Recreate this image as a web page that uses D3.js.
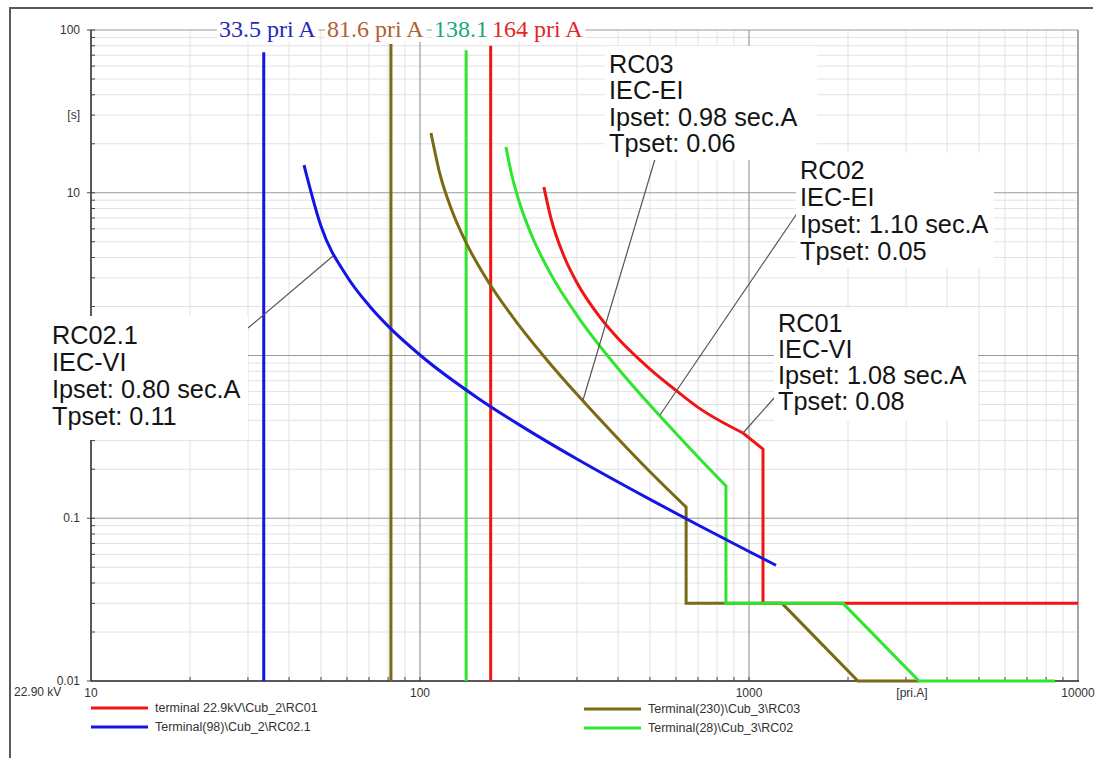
<!DOCTYPE html>
<html><head><meta charset="utf-8">
<script src="https://cdn.jsdelivr.net/npm/d3@7"></script>
<style>body{margin:0;background:#fff;} svg{display:block}</style>
</head><body><svg id="c" width="1097" height="758"></svg>
<script>
// ---------- data ----------
const xTickValues = [10, 100, 1000, 10000];
const xTickLabels = ["10", "100", "1000", "10000"];
const yTickValues = [0.01, 0.1, 10, 100];
const yTickLabels = ["0.01", "0.1", "10", "100"];

// RC01 (red, IEC-VI)
const rc01Curve = [[238,10.85],[250,6.98],[275,4.0],[300,2.8],[350,1.75],[400,1.27],[500,0.825],[600,0.61],[700,0.48],[959,0.334]];
const rc01Tail = [[959,0.334],[1103,0.266],[1103,0.03],[10000,0.03]];
// RC03 (olive, IEC-EI)
const rc03Curve = [[108,23.3],[115,13.0],[125,7.78],[140,4.67],[160,2.91],[200,1.53],[250,0.878],[300,0.577],[400,0.308],[500,0.193],[644,0.117]];
const rc03Tail = [[644,0.117],[644,0.03],[1260,0.03],[2143,0.01],[3286,0.01]];
// RC02 (green, IEC-EI)
const rc02Curve = [[182.5,19.1],[190,12.9],[200,8.86],[220,5.29],[250,3.15],[300,1.765],[400,0.832],[500,0.496],[600,0.332],[700,0.238],[851,0.158]];
const rc02Tail = [[851,0.158],[851,0.03],[1931,0.03],[3286,0.01],[8511,0.01]];
// RC02.1 (blue, IEC-VI)
const rc021Curve = [[44.4,14.8],[50,6.25],[60,3.06],[70,2.03],[80,1.515],[100,1.007],[150,0.547],[200,0.376],[300,0.231],[500,0.1305],[700,0.0909],[1000,0.0625],[1208,0.0514]];
const rc021Tail = [];

// Pickup lines
const pickupLabels = ["33.5 pri A", "81.6 pri A", "138.1", "164 pri A"];
const pickupCurrents = [33.5, 81.6, 138.1, 164];
const pickupTops = [73, 82, 75, 80];

// Legend
const legendNames = ["terminal 22.9kV\\Cub_2\\RC01", "Terminal(98)\\Cub_2\\RC02.1", "Terminal(230)\\Cub_3\\RC03", "Terminal(28)\\Cub_3\\RC02"];

// Annotations
const annRC03 = ["RC03", "IEC-EI", "Ipset: 0.98 sec.A", "Tpset: 0.06"];
const annRC02 = ["RC02", "IEC-EI", "Ipset: 1.10 sec.A", "Tpset: 0.05"];
const annRC01 = ["RC01", "IEC-VI", "Ipset: 1.08 sec.A", "Tpset: 0.08"];
const annRC021 = ["RC02.1", "IEC-VI", "Ipset: 0.80 sec.A", "Tpset: 0.11"];
const annAnchors = [[313, 0.533], [536.5, 0.431], [959, 0.334], [54.4, 4.09]];

// ---------- drawing ----------
const svg = d3.select("#c");
const x = d3.scaleLog().domain([10, 10000]).range([91, 1078]);
const y = d3.scaleLog().domain([0.01, 100]).range([681, 30]);

const RED = "#f01414", BLUE = "#1414e6", OLIVE = "#7a6a14", GREEN = "#2ee62e";

// outer frame
svg.append("path").attr("d", "M10,758 L10,8 L1093,8").attr("fill", "none").attr("stroke", "#5a5a5a").attr("stroke-width", 2);

// grid
const minorX = [], majorX = [100, 1000];
[10, 100, 1000].forEach(d => { for (let k = 2; k <= 9; k++) minorX.push(d * k); });
const minorY = [], majorY = [0.1, 1, 10, 100];
[0.01, 0.1, 1, 10].forEach(d => { for (let k = 2; k <= 9; k++) minorY.push(d * k); });

const g = svg.append("g");
g.selectAll(".mx").data(minorX).join("line")
  .attr("x1", d => x(d)).attr("x2", d => x(d)).attr("y1", 30).attr("y2", 681)
  .attr("stroke", "#e2e2e2").attr("stroke-width", 1);
g.selectAll(".my").data(minorY).join("line")
  .attr("x1", 91).attr("x2", 1078).attr("y1", d => y(d)).attr("y2", d => y(d))
  .attr("stroke", "#e2e2e2").attr("stroke-width", 1);
g.selectAll(".Mx").data(majorX).join("line")
  .attr("x1", d => x(d)).attr("x2", d => x(d)).attr("y1", 30).attr("y2", 681)
  .attr("stroke", "#9a9a9a").attr("stroke-width", 1.2);
g.selectAll(".My").data(majorY).join("line")
  .attr("x1", 91).attr("x2", 1078).attr("y1", d => y(d)).attr("y2", d => y(d))
  .attr("stroke", "#9a9a9a").attr("stroke-width", 1.2);
// right edge
g.append("line").attr("x1", x(10000)).attr("x2", x(10000)).attr("y1", 30).attr("y2", 681)
  .attr("stroke", "#8a8a8a").attr("stroke-width", 1.5);

// axes lines
g.append("line").attr("x1", 91).attr("x2", 91).attr("y1", 30).attr("y2", 681).attr("stroke", "#222").attr("stroke-width", 1.5);
g.append("line").attr("x1", 91).attr("x2", 1079).attr("y1", 681).attr("y2", 681).attr("stroke", "#222").attr("stroke-width", 1.5);
// ticks
g.selectAll(".ty").data(minorY.concat(majorY)).join("line")
  .attr("x1", 91).attr("x2", 95).attr("y1", d => y(d)).attr("y2", d => y(d)).attr("stroke", "#444");
g.selectAll(".tyM").data(yTickValues).join("line")
  .attr("x1", 87).attr("x2", 91).attr("y1", d => y(d)).attr("y2", d => y(d)).attr("stroke", "#444");
g.selectAll(".tx").data(minorX.concat(majorX)).join("line")
  .attr("x1", d => x(d)).attr("x2", d => x(d)).attr("y1", 677).attr("y2", 681).attr("stroke", "#444");

// axis labels
const axFont = "'Liberation Sans', Arial, sans-serif";
g.selectAll(".yl").data(yTickValues).join("text")
  .attr("x", 80).attr("y", d => y(d)).attr("dy", "0.35em").attr("text-anchor", "end")
  .attr("font-family", axFont).attr("font-size", 12).attr("fill", "#333")
  .text((d, i) => yTickLabels[i]);
g.append("text").attr("x", 80).attr("y", y(30)).attr("dy", "0.35em").attr("text-anchor", "end")
  .attr("font-family", axFont).attr("font-size", 12).attr("fill", "#333").text("[s]");
g.selectAll(".xl").data(xTickValues).join("text")
  .attr("x", d => x(d)).attr("y", 693).attr("dy", "0.35em").attr("text-anchor", "middle")
  .attr("font-family", axFont).attr("font-size", 12).attr("fill", "#333")
  .text((d, i) => xTickLabels[i]);
g.append("text").attr("x", 912).attr("y", 693).attr("dy", "0.35em").attr("text-anchor", "middle")
  .attr("font-family", axFont).attr("font-size", 12).attr("fill", "#333").text("[pri.A]");
g.append("text").attr("x", 14).attr("y", 692).attr("dy", "0.35em")
  .attr("font-family", axFont).attr("font-size", 12).attr("fill", "#333").text("22.90 kV");

// curves
const lineCurve = d3.line().x(d => x(d[0])).y(d => y(d[1])).curve(d3.curveMonotoneX);
const lineLin = d3.line().x(d => x(d[0])).y(d => y(d[1]));
const series = [
  {c: rc01Curve, t: rc01Tail, col: RED},
  {c: rc03Curve, t: rc03Tail, col: OLIVE},
  {c: rc02Curve, t: rc02Tail, col: GREEN},
  {c: rc021Curve, t: rc021Tail, col: BLUE}
];
const pickupColors = [BLUE, OLIVE, GREEN, RED];
const cg = svg.append("g");
pickupCurrents.forEach((p, i) => {
  cg.append("line").attr("x1", x(p)).attr("x2", x(p)).attr("y1", y(pickupTops[i])).attr("y2", y(0.01))
    .attr("stroke", pickupColors[i]).attr("stroke-width", 3);
});
series.forEach(s => {
  const all = s.c.concat(s.t.slice(1));
  cg.append("path").attr("d", lineCurve(s.c) + (s.t.length ? lineLin(s.t).replace(/^M/, "L") : ""))
    .attr("fill", "none").attr("stroke", s.col).attr("stroke-width", 3).attr("stroke-linejoin", "miter");
});

// annotations
const annFont = "'Liberation Sans', Arial, sans-serif";
const anns = [
  {lines: annRC03, tx: 609, ty: 73, sp: 26.3, box: [605, 46, 212, 114], lp: [655, 159]},
  {lines: annRC02, tx: 800, ty: 179, sp: 27, box: [796, 153, 198, 114], lp: [798, 212]},
  {lines: annRC01, tx: 778, ty: 332, sp: 26, box: [774, 308, 204, 113], lp: [775, 397]},
  {lines: annRC021, tx: 52, ty: 344, sp: 27, box: [47, 316, 201, 124], lp: [248, 328]}
];
const ag = svg.append("g");
anns.forEach((a, i) => {
  const an = annAnchors[i];
  ag.append("line").attr("x1", a.lp[0]).attr("y1", a.lp[1]).attr("x2", x(an[0])).attr("y2", y(an[1]))
    .attr("stroke", "#555").attr("stroke-width", 1.2);
});
anns.forEach(a => {
  ag.append("rect").attr("x", a.box[0]).attr("y", a.box[1]).attr("width", a.box[2]).attr("height", a.box[3]).attr("fill", "#fff");
  a.lines.forEach((t, j) => {
    ag.append("text").attr("x", a.tx).attr("y", a.ty + j * a.sp)
      .attr("font-family", annFont).attr("font-size", 25.3).attr("fill", "#141414").text(t);
  });
});

// pickup labels
const labelColors = ["#2828b8", "#b0622e", "#18a878", "#e02828"];
const labelX = [219, 327, 434, 492];
pickupLabels.forEach((t, i) => {
  const tt = svg.append("text").attr("x", labelX[i]).attr("y", 37)
    .attr("font-family", "'Liberation Serif', 'Times New Roman', serif").attr("font-size", 24)
    .attr("fill", labelColors[i]).text(t);
  const bb = tt.node().getBBox();
  svg.insert("rect", () => tt.node()).attr("x", bb.x - 2).attr("y", bb.y).attr("width", bb.width + 4).attr("height", bb.height)
    .attr("fill", "#fff");
});

// legend
const legColors = [RED, BLUE, OLIVE, GREEN];
const legPos = [[91, 708], [91, 727], [584, 709], [584, 728]];
legendNames.forEach((n, i) => {
  const [lx, ly] = legPos[i];
  svg.append("line").attr("x1", lx).attr("x2", lx + 57).attr("y1", ly).attr("y2", ly)
    .attr("stroke", legColors[i]).attr("stroke-width", 3);
  svg.append("text").attr("x", lx + 64).attr("y", ly).attr("dy", "0.35em")
    .attr("font-family", axFont).attr("font-size", 12.5).attr("fill", "#333").text(n);
});
</script></body></html>
